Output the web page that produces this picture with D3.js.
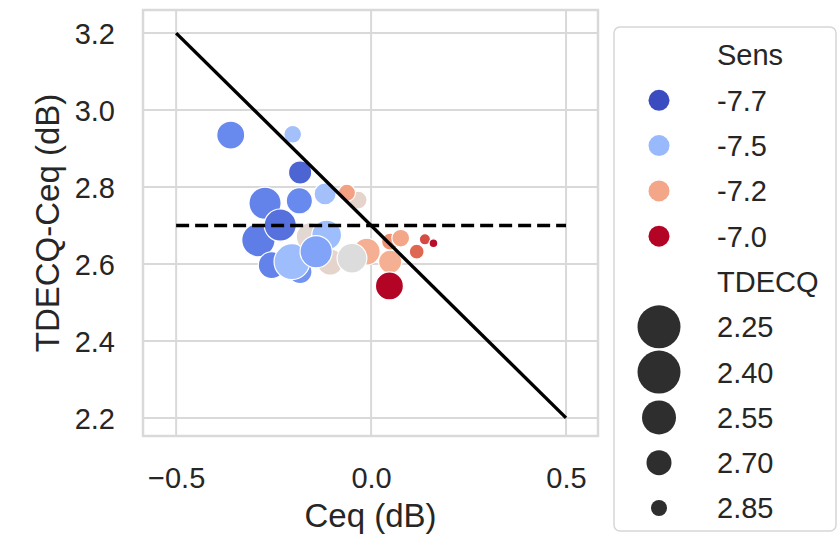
<!DOCTYPE html>
<html>
<head>
<meta charset="utf-8">
<script src="https://cdn.jsdelivr.net/npm/d3@7"></script>
<style>
  html, body { margin: 0; padding: 0; background: #ffffff; }
  svg text { font-family: "Liberation Sans", Arial, Helvetica, sans-serif; fill: #262626; }
</style>
</head>
<body>
<svg id="chart" width="839" height="538"></svg>
<script>
// Measurements: equalizer gain, residual TDECQ, receiver sensitivity, TDECQ
const ceq           = [-0.360, -0.201, -0.182, -0.118, -0.033, -0.062, -0.272, -0.184, -0.289, -0.255,
                       -0.182, -0.203, -0.156, -0.105, -0.114, -0.233, -0.141, -0.011, -0.049, 0.049,
                        0.076,  0.049,  0.117,  0.138,  0.160,  0.047];
const tdecqMinusCeq = [ 2.935,  2.937,  2.838,  2.782,  2.766,  2.785,  2.758,  2.764,  2.662,  2.597,
                        2.580,  2.606,  2.671,  2.605,  2.675,  2.701,  2.632,  2.632,  2.615,  2.658,
                        2.667,  2.606,  2.632,  2.664,  2.654,  2.543];
const sens          = [ -7.60,  -7.48,  -7.66,  -7.48,  -7.32,  -7.19,  -7.61,  -7.60,  -7.62,  -7.61,
                        -7.58,  -7.49,  -7.33,  -7.32,  -7.49,  -7.64,  -7.55,  -7.22,  -7.35,  -7.16,
                        -7.20,  -7.22,  -7.10,  -7.07,  -7.01,  -7.00];
const tdecq         = [  2.65,   2.82,   2.73,   2.75,   2.82,   2.83,   2.58,   2.68,   2.56,   2.67,
                         2.72,   2.52,   2.65,   2.68,   2.62,   2.58,   2.58,   2.67,   2.62,   2.83,
                         2.82,   2.73,   2.87,   2.93,   2.97,   2.65];

const xTicks = [-0.5, 0.0, 0.5];
const yTicks = [2.2, 2.4, 2.6, 2.8, 3.0, 3.2];
const sensLegend  = [-7.7, -7.5, -7.2, -7.0];
const tdecqLegend = [2.25, 2.40, 2.55, 2.70, 2.85];

// Reference lines: TDECQ = 2.7 diagonal and the 2.7 dB level
const diagX = [-0.5, 0.5];
const diagY = [3.2, 2.2];
const levelX = [-0.5, 0.5];
const levelY = 2.7;

const svg = d3.select("#chart");
const W = 839, H = 538;
const plot = { left: 143, right: 598, top: 10, bottom: 436 };

const x = d3.scaleLinear().domain([-0.585, 0.582]).range([plot.left, plot.right]);
const y = d3.scaleLinear().domain([2.153, 3.26]).range([plot.bottom, plot.top]);

// coolwarm diverging map
const coolwarm = d3.piecewise(d3.interpolateRgb, [
  "#3b4cc0", "#6282ea", "#8db0fe", "#b8d0f9", "#dddcdc",
  "#f5c4ac", "#f49a7b", "#dc5d4a", "#b40426"
]);
const hue = d3.scaleLinear().domain([-7.7, -7.0]).range([0, 1]).clamp(true);
const color = v => coolwarm(hue(v));

// marker radius from TDECQ (smaller TDECQ -> larger marker)
const radius = d3.scaleLinear().domain([2.25, 2.40, 2.85]).range([21.5, 21.5, 8]);

svg.append("rect").attr("width", W).attr("height", H).attr("fill", "#ffffff");

const gridColor = "#d9d9d9";
const g = svg.append("g");

// grid
g.selectAll("line.gx").data(xTicks).enter().append("line")
  .attr("x1", d => x(d)).attr("x2", d => x(d))
  .attr("y1", plot.top).attr("y2", plot.bottom)
  .attr("stroke", gridColor).attr("stroke-width", 2);
g.selectAll("line.gy").data(yTicks).enter().append("line")
  .attr("x1", plot.left).attr("x2", plot.right)
  .attr("y1", d => y(d)).attr("y2", d => y(d))
  .attr("stroke", gridColor).attr("stroke-width", 2);

// frame
g.append("rect")
  .attr("x", plot.left).attr("y", plot.top)
  .attr("width", plot.right - plot.left).attr("height", plot.bottom - plot.top)
  .attr("fill", "none").attr("stroke", gridColor).attr("stroke-width", 2.5);

// axes via d3-axis, styled without domain/ticks
const xAxis = d3.axisBottom(x).tickValues(xTicks).tickSize(0).tickPadding(0)
  .tickFormat(d => d3.format(".1f")(d));
const xa = svg.append("g").attr("transform", `translate(0,${plot.bottom})`).call(xAxis);
xa.select(".domain").remove();
xa.selectAll("text").attr("font-size", 29).attr("dy", null).attr("y", 52)
  .attr("fill", "#262626").style("font-family", "'Liberation Sans', Arial, sans-serif");

const yAxis = d3.axisLeft(y).tickValues(yTicks).tickSize(0).tickPadding(28)
  .tickFormat(d3.format(".1f"));
const ya = svg.append("g").attr("transform", `translate(${plot.left},0)`).call(yAxis);
ya.select(".domain").remove();
ya.selectAll("text").attr("font-size", 29).attr("dy", "0.36em")
  .attr("fill", "#262626").style("font-family", "'Liberation Sans', Arial, sans-serif");

// axis titles
svg.append("text")
  .attr("x", (plot.left + plot.right) / 2).attr("y", 527)
  .attr("text-anchor", "middle").attr("font-size", 33)
  .text("Ceq (dB)");
svg.append("text")
  .attr("transform", `translate(59,${(plot.top + plot.bottom) / 2}) rotate(-90)`)
  .attr("text-anchor", "middle").attr("font-size", 33)
  .text("TDECQ-Ceq (dB)");

// scatter points
const pts = ceq.map((c, i) => ({ c, r: tdecqMinusCeq[i], s: sens[i], t: tdecq[i] }));
svg.append("g").selectAll("circle").data(pts).enter().append("circle")
  .attr("cx", d => x(d.c)).attr("cy", d => y(d.r))
  .attr("r", d => radius(d.t))
  .attr("fill", d => color(d.s))
  .attr("stroke", "#ffffff").attr("stroke-width", 1.2);

// reference lines
svg.append("line")
  .attr("x1", x(diagX[0])).attr("y1", y(diagY[0]))
  .attr("x2", x(diagX[1])).attr("y2", y(diagY[1]))
  .attr("stroke", "#000000").attr("stroke-width", 3.4);
svg.append("line")
  .attr("x1", x(levelX[0])).attr("y1", y(levelY))
  .attr("x2", x(levelX[1])).attr("y2", y(levelY))
  .attr("stroke", "#000000").attr("stroke-width", 3.4)
  .attr("stroke-dasharray", "13,6");

// legend
const lg = svg.append("g");
lg.append("rect")
  .attr("x", 614).attr("y", 27).attr("width", 222).attr("height", 504)
  .attr("rx", 6).attr("fill", "#ffffff")
  .attr("stroke", "#d6d6d6").attr("stroke-width", 1.5);

const rowTop = 55, rowStep = 45.3, markerX = 659, textX = 717;
const fmt1 = v => d3.format(".1f")(v).replace("\u2212", "-");
const rows = [{ type: "title", label: "Sens" }]
  .concat(sensLegend.map(v => ({ type: "hue", v, label: fmt1(v) })))
  .concat([{ type: "title", label: "TDECQ" }])
  .concat(tdecqLegend.map(v => ({ type: "size", v, label: d3.format(".2f")(v) })));

rows.forEach((row, i) => {
  const cy = rowTop + i * rowStep;
  if (row.type === "hue") {
    lg.append("circle").attr("cx", markerX).attr("cy", cy).attr("r", 10.5)
      .attr("fill", color(row.v));
  } else if (row.type === "size") {
    lg.append("circle").attr("cx", markerX).attr("cy", cy).attr("r", radius(row.v))
      .attr("fill", "#2e2e2e");
  }
  lg.append("text").attr("x", textX).attr("y", cy).attr("dy", "0.36em")
    .attr("font-size", 29).text(row.label);
});
</script>
</body>
</html>
